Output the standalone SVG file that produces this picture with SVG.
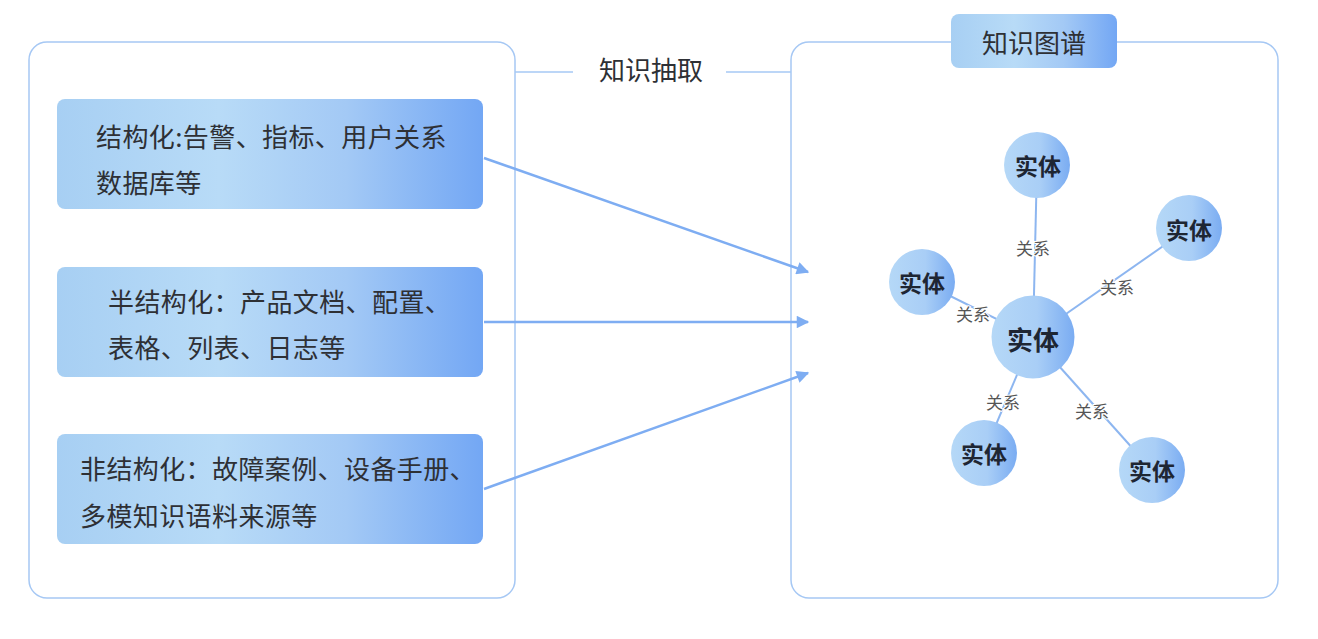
<svg xmlns="http://www.w3.org/2000/svg" width="1318" height="639" viewBox="0 0 1318 639">
  <defs>
    <linearGradient id="boxGrad" x1="0" y1="0" x2="1" y2="0">
      <stop offset="0" stop-color="#A7CFF3"/>
      <stop offset="0.38" stop-color="#B8DBF7"/>
      <stop offset="0.68" stop-color="#A3C9F5"/>
      <stop offset="1" stop-color="#73A7F4"/>
    </linearGradient>
    <linearGradient id="circGrad" x1="0" y1="0" x2="1" y2="0">
      <stop offset="0" stop-color="#B5D8F7"/>
      <stop offset="0.55" stop-color="#A9CEF6"/>
      <stop offset="1" stop-color="#7AACF2"/>
    </linearGradient>
    <marker id="arrow" viewBox="0 0 10 10" refX="9" refY="5" markerWidth="5.5" markerHeight="5" orient="auto" markerUnits="strokeWidth">
      <path d="M0,0 L10,5 L0,10 Z" fill="#7EADF2"/>
    </marker>
    <style>
      .container { fill: #FFFFFF; stroke: #A6C8F4; stroke-width: 1.5; }
      .box { fill: url(#boxGrad); }
      .txt { font-family: "Noto Sans CJK SC", "Noto Sans", sans-serif; font-size: 26px; fill: #2E3035; font-weight: 400; letter-spacing: 0.4px; dominant-baseline: central; }
      .title { font-family: "Noto Sans CJK SC", "Noto Sans", sans-serif; font-size: 26px; fill: #2E3035; font-weight: 400; text-anchor: middle; dominant-baseline: central; }
      .ent { fill: url(#circGrad); }
      .entTxt { font-family: "Noto Sans CJK SC", "Noto Sans", sans-serif; font-size: 23px; font-weight: 700; fill: #1E2633; text-anchor: middle; dominant-baseline: central; }
      .edge { stroke: #8DB6F0; stroke-width: 2; fill: none; }
      .rel { font-family: "Noto Sans CJK SC", "Noto Sans", sans-serif; font-size: 17px; fill: #555555; text-anchor: middle; dominant-baseline: central; paint-order: stroke; stroke: #FFFFFF; stroke-width: 2px; }
      .flow { stroke: #7EADF2; stroke-width: 2.5; fill: none; marker-end: url(#arrow); }
      .link { stroke: #A6C8F4; stroke-width: 1.5; fill: none; }
    </style>
  </defs>

  <g id="left-container">
    <rect class="container" x="29" y="42" width="486" height="556" rx="18"/>
  </g>
  <g id="right-container">
    <rect class="container" x="791" y="42" width="487" height="556" rx="18"/>
  </g>

  <g id="extract-label">
    <line class="link" x1="515" y1="72" x2="573" y2="72"/>
    <text class="title" x="651" y="68">知识抽取</text>
    <line class="link" x1="726" y1="72" x2="791" y2="72"/>
  </g>

  <g id="kg-title">
    <rect class="box" x="951" y="14" width="166" height="54" rx="8"/>
    <text class="title" x="1034" y="41">知识图谱</text>
  </g>

  <g id="box-structured">
    <rect class="box" x="57" y="99" width="426" height="110" rx="8"/>
    <text class="txt" x="96" y="135">结构化:告警、指标、用户关系</text>
    <text class="txt" x="96" y="181">数据库等</text>
  </g>
  <g id="box-semi">
    <rect class="box" x="57" y="267" width="426" height="110" rx="8"/>
    <text class="txt" x="108" y="300">半结构化：产品文档、配置、</text>
    <text class="txt" x="108" y="346">表格、列表、日志等</text>
  </g>
  <g id="box-unstructured">
    <rect class="box" x="57" y="434" width="426" height="110" rx="8"/>
    <text class="txt" x="80" y="467">非结构化：故障案例、设备手册、</text>
    <text class="txt" x="80" y="514">多模知识语料来源等</text>
  </g>

  <g id="connectors">
    <line class="flow" x1="484" y1="158" x2="808" y2="272"/>
    <line class="flow" x1="484" y1="322" x2="808" y2="322"/>
    <line class="flow" x1="484" y1="489" x2="808" y2="373"/>
    <line class="edge" x1="1033" y1="337" x2="1037" y2="165"/>
    <line class="edge" x1="1033" y1="337" x2="1189" y2="228"/>
    <line class="edge" x1="1033" y1="337" x2="922" y2="282"/>
    <line class="edge" x1="1033" y1="337" x2="984" y2="453"/>
    <line class="edge" x1="1033" y1="337" x2="1152" y2="470"/>
    <text class="rel" x="1033" y="247">关系</text>
    <text class="rel" x="1117" y="286">关系</text>
    <text class="rel" x="973" y="313">关系</text>
    <text class="rel" x="1003" y="401">关系</text>
    <text class="rel" x="1092" y="410">关系</text>
  </g>

  <g id="entity-center">
    <circle class="ent" cx="1033" cy="337" r="41.5"/>
    <text class="entTxt" x="1033" y="338" style="font-size:26px">实体</text>
  </g>
  <g id="entity-top">
    <circle class="ent" cx="1037" cy="165" r="33"/>
    <text class="entTxt" x="1038" y="165">实体</text>
  </g>
  <g id="entity-upper-right">
    <circle class="ent" cx="1189" cy="228" r="33"/>
    <text class="entTxt" x="1189" y="229">实体</text>
  </g>
  <g id="entity-left">
    <circle class="ent" cx="922" cy="282" r="33"/>
    <text class="entTxt" x="922" y="282">实体</text>
  </g>
  <g id="entity-bottom-left">
    <circle class="ent" cx="984" cy="453" r="33"/>
    <text class="entTxt" x="984" y="453">实体</text>
  </g>
  <g id="entity-bottom-right">
    <circle class="ent" cx="1152" cy="470" r="33"/>
    <text class="entTxt" x="1152" y="470">实体</text>
  </g>
</svg>
